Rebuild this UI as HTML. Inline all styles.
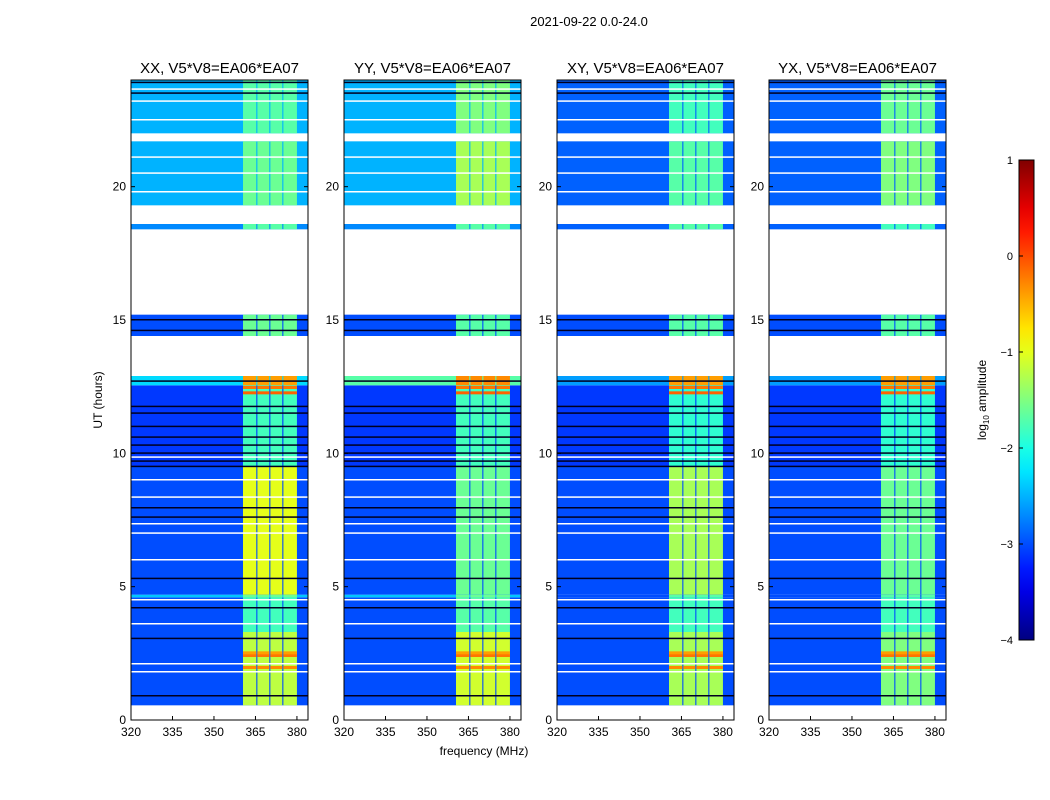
<!DOCTYPE html>
<html><head><meta charset="utf-8">
<style>
body{margin:0;background:#fff;font-family:"Liberation Sans",sans-serif;}
svg{display:block}
text{font-family:"Liberation Sans",sans-serif;}
</style></head>
<body>
<svg id="fig" width="1050" height="800" viewBox="0 0 1050 800">
<text x="589" y="26" font-size="13" text-anchor="middle">2021-09-22 0.0-24.0</text>
<text x="484" y="755" font-size="12" text-anchor="middle">frequency (MHz)</text>
<text transform="translate(102,400) rotate(-90)" font-size="12" text-anchor="middle">UT (hours)</text>
<g id="panels"></g>
<g id="cbar"></g>
</svg>
<script>
// ---- data ----
const panelNames = ["XX","YY","XY","YX"];
const baseline = "V5*V8=EA06*EA07";
const segStart = [0,   0.55, 3.3, 4.6, 4.7, 9.5, 12.55,12.9,14.4,15.2,18.4,18.6,19.3,21.7,22.0];
const segEnd   = [0.55,3.3,  4.6, 4.7, 9.5, 12.55,12.9,14.4,15.2,18.4,18.6,19.3,21.7,22.0,24.0];
const bgXX   = [null,-3.0,-3.0,-2.4,-3.0,-3.1,-2.3,null,-3.0,null,-2.7,null,-2.5,null,-2.5];
const bgYY   = [null,-3.0,-3.0,-2.4,-3.0,-3.1,-1.7,null,-3.0,null,-2.7,null,-2.5,null,-2.5];
const bgXY   = [null,-3.0,-3.0,-3.0,-3.0,-3.1,-2.6,null,-3.0,null,-2.9,null,-2.9,null,-2.9];
const bgYX   = [null,-3.0,-3.0,-3.0,-3.0,-3.1,-2.6,null,-3.0,null,-2.9,null,-2.9,null,-2.9];
const bandXX = [null,-1.2,-1.8,-1.6,-1.0,-1.8,-0.4,null,-1.6,null,-1.7,null,-1.6,null,-1.7];
const bandYY = [null,-1.1,-1.7,-1.6,-1.6,-1.8,-0.3,null,-1.7,null,-1.7,null,-1.3,null,-1.5];
const bandXY = [null,-1.3,-1.8,-1.7,-1.3,-1.9,-0.4,null,-1.7,null,-1.7,null,-1.7,null,-1.8];
const bandYX = [null,-1.5,-1.8,-1.7,-1.6,-1.9,-0.4,null,-1.7,null,-1.8,null,-1.5,null,-1.6];
const bgLevels = [bgXX,bgYY,bgXY,bgYX];
const bandLevels = [bandXX,bandYY,bandXY,bandYX];
const chanLo = [360.5,365.7,370.4,375.1];
const chanHi = [365.3,370.0,374.7,380.0];
const hotUT  = [1.95,2.4,2.5,12.25,12.45];
const hotLvl = [-0.3,-0.2,-0.4,-0.1,-0.2];
const blackUT = [0.9,3.05,4.2,5.3,7.6,7.95,9.5,9.7,10.0,10.3,10.6,11.0,11.5,11.75,12.7,14.6,15.0,23.5,23.9];
const whiteUT = [1.8,2.1,3.6,4.5,6.0,7.0,7.35,8.35,9.0,9.85,19.8,20.5,21.1,22.5,23.2,23.65];
const yTicks = [0,5,10,15,20];
const xTicks = [320,335,350,365,380];
const cTicks = [1,0,-1,-2,-3,-4];

// ---- scales ----
const panelX0 = [131,344,557,769], PW = 177, PY0 = 80, PH = 640;
const fMin = 320, fMax = 384, tMax = 24;
const fx = (i,f)=> panelX0[i] + (f-fMin)/(fMax-fMin)*PW;
const ty = t => PY0 + PH - t/tMax*PH;
function jet(v){
  let t=Math.max(0,Math.min(1,(v+4)/5));
  const c=x=>Math.round(255*Math.max(0,Math.min(1,1.5-Math.abs(4*t-x))));
  return `rgb(${c(3)},${c(2)},${c(1)})`;
}
const NS="http://www.w3.org/2000/svg";
function mk(tag,attrs,parent){const e=document.createElementNS(NS,tag);for(const k in attrs)e.setAttribute(k,attrs[k]);parent.appendChild(e);return e;}

const panels=document.getElementById('panels');
panelNames.forEach((nm,i)=>{
  const g=mk('g',{},panels);
  
  
  const x0=panelX0[i];
  mk('rect',{x:x0,y:PY0,width:PW,height:PH,fill:'#fff'},g);
  for(let s=0;s<segStart.length;s++){
    const bg=bgLevels[i][s]; if(bg===null) continue;
    const y1=ty(segEnd[s]), h=ty(segStart[s])-y1;
    const r=mk('rect',{x:x0,y:y1,width:PW,height:h,fill:jet(bg)},g);
    
    
    for(let c=0;c<chanLo.length;c++){
      const b=mk('rect',{x:fx(i,chanLo[c]),y:y1,width:fx(i,chanHi[c])-fx(i,chanLo[c]),height:h,fill:jet(bandLevels[i][s])},g);
      
      
    }
  }
  hotUT.forEach((u,k)=>{
    for(let c=0;c<chanLo.length;c++){
      const h=mk('rect',{x:fx(i,chanLo[c]),y:ty(u)-2,width:fx(i,chanHi[c])-fx(i,chanLo[c]),height:3,fill:jet(hotLvl[k])},g);
      
      
    }
  });
  blackUT.forEach(u=>{const l=mk('rect',{x:x0,y:ty(u)-1,width:PW,height:1.5,fill:'#000020'},g);
    });
  whiteUT.forEach(u=>{const l=mk('rect',{x:x0,y:ty(u)-1,width:PW,height:1.5,fill:'#fff'},g);
    });
  mk('rect',{x:x0,y:PY0,width:PW,height:PH,fill:'none',stroke:'#000','stroke-width':1},g);
  const tt=mk('text',{x:x0+PW/2,y:73,'font-size':15,'text-anchor':'middle'},g);
  tt.textContent=nm+", "+baseline;
  
  
  yTicks.forEach(v=>{
    const y=ty(v);
    mk('line',{x1:x0,x2:x0+4,y1:y,y2:y,stroke:'#000'},g);
    mk('line',{x1:x0+PW-4,x2:x0+PW,y1:y,y2:y,stroke:'#000'},g);
    const t=mk('text',{x:x0-5,y:y+4,'font-size':12,'text-anchor':'end'},g);
    t.textContent=v;
    
    
  });
  xTicks.forEach(v=>{
    const x=fx(i,v);
    mk('line',{x1:x,x2:x,y1:PY0+PH,y2:PY0+PH-4,stroke:'#000'},g);
    const t=mk('text',{x:x,y:736,'font-size':12,'text-anchor':'middle'},g);
    t.textContent=v;
    
    
  });
});

const cb=document.getElementById('cbar');
const CX=1019,CY=160,CW=15,CH=480;
const defs=mk('defs',{},cb);
const lg=mk('linearGradient',{id:'jetg',x1:0,y1:1,x2:0,y2:0},defs);
for(let k=0;k<=20;k++){mk('stop',{offset:k/20,'stop-color':jet(-4+5*k/20)},lg);}
mk('rect',{x:CX,y:CY,width:CW,height:CH,fill:'url(#jetg)',stroke:'#000'},cb);
cTicks.forEach(v=>{
  const y=CY+CH-(v+4)/5*CH;
  mk('line',{x1:CX,x2:CX+4,y1:y,y2:y,stroke:'#000'},cb);
  const t=mk('text',{x:CX-6,y:y+4,'font-size':11,'text-anchor':'end'},cb);
  t.textContent=v<0?'\u2212'+(-v):v;
  
  
});
const cl=mk('text',{transform:'translate(986,400) rotate(-90)','font-size':12,'text-anchor':'middle'},cb);
cl.innerHTML='log<tspan font-size="8" dy="3">10</tspan><tspan dy="-3"> amplitude</tspan>';


</script>
</body></html>
